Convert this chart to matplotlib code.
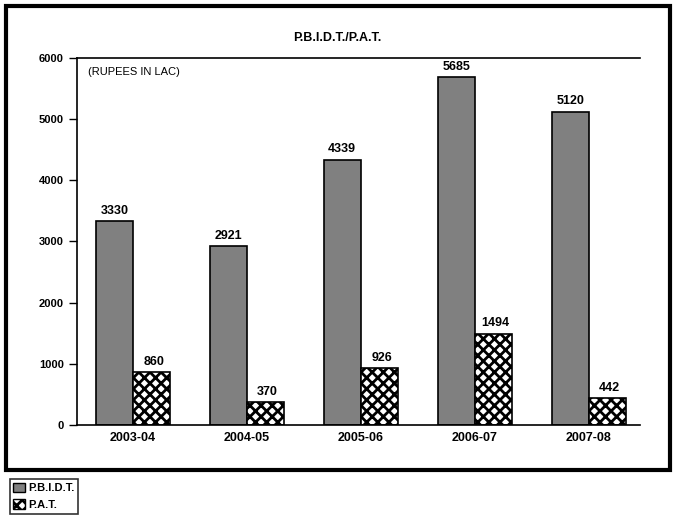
import matplotlib.pyplot as plt
import matplotlib.patches as mpatches
import numpy as np

plt.rcParams['font.family'] = ['Liberation Sans', 'DejaVu Sans']
plt.rcParams['hatch.linewidth'] = 2.0

years = ["2003-04", "2004-05", "2005-06", "2006-07", "2007-08"]
pbidt = [3330, 2921, 4339, 5685, 5120]
pat = [860, 370, 926, 1494, 442]

fig = plt.figure(figsize=(6.75, 5.21), dpi=100)

# outer frame around the chart
frame = mpatches.Rectangle((0.009, 0.098), 0.984, 0.89, transform=fig.transFigure,
                           fill=False, edgecolor="black", linewidth=3)
fig.patches.append(frame)

ax = fig.add_axes([0.114, 0.184, 0.834, 0.705])
x = np.arange(len(years))
w = 0.325

ax.bar(x - w / 2, pbidt, w, color="#808080", edgecolor="black", linewidth=1.2)
ax.bar(x + w / 2, pat, w, color="white", edgecolor="black", linewidth=1.2, hatch="XXX")

for xi, v in zip(x, pbidt):
    ax.text(xi - w / 2, v + 70, str(v), ha="center", va="bottom", fontsize=9,
            fontweight="bold")
for xi, v in zip(x, pat):
    ax.text(xi + w / 2 + 0.02, v + 70, str(v), ha="center", va="bottom", fontsize=9,
            fontweight="bold")

ax.set_xlim(-0.49, 4.45)
ax.set_ylim(0, 6000)
ax.set_yticks(range(0, 6001, 1000))
ax.set_xticks(x)
ax.set_xticklabels(years, fontsize=9, fontweight="bold")
ax.tick_params(axis="x", length=0, pad=5)
ax.tick_params(axis="y", length=6, width=1, labelsize=8, direction="out")
for lbl in ax.get_yticklabels():
    lbl.set_fontweight("bold")
ax.spines["right"].set_visible(False)
for s in ["left", "top", "bottom"]:
    ax.spines[s].set_linewidth(1.2)

ax.text(0.02, 0.975, "(RUPEES IN LAC)", transform=ax.transAxes, fontsize=8,
        ha="left", va="top")
fig.text(0.5, 0.927, "P.B.I.D.T./P.A.T.", ha="center", va="center", fontsize=9,
         fontweight="bold")

handles = [mpatches.Patch(facecolor="#808080", edgecolor="black", label="P.B.I.D.T."),
           mpatches.Patch(facecolor="white", edgecolor="black", hatch="XXX", label="P.A.T.")]
leg = fig.legend(handles=handles, loc="upper left", bbox_to_anchor=(0.006, 0.092),
                 prop={"size": 8, "weight": "bold"}, frameon=True, fancybox=False,
                 edgecolor="black", handlelength=1.0, handleheight=1.0,
                 handletextpad=0.3, borderpad=0.35, labelspacing=0.55)
leg.get_frame().set_linewidth(1.2)

fig.savefig("out.png", dpi=100)
